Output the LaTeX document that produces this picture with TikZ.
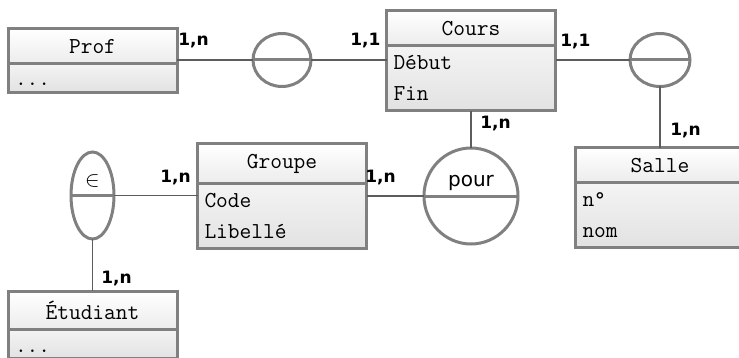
\documentclass[tikz,border=0pt]{standalone}
\usepackage{fontspec}
\newfontfamily\cardfont{DejaVu Sans}
\usepackage{tikz}
\usetikzlibrary{positioning,shapes.geometric}
\definecolor{mcdgris}{HTML}{808080}
\definecolor{mcdtrait}{HTML}{5C5C5C}
\definecolor{mcdbas}{HTML}{ECECEC}
\definecolor{mcdattr}{HTML}{E2E2E2}

\begin{document}
\begin{tikzpicture}[x=0.5pt,y=-0.5pt,
  entite/.style={draw=mcdgris,line width=1.5pt,top color=white,bottom color=mcdbas,
    minimum width=84.5pt,inner xsep=3.5pt,inner ysep=5pt,outer sep=0pt,anchor=north,
    font=\fontsize{11.4}{15.5}\selectfont\ttfamily},
  attributs/.style={draw=mcdgris,line width=1.5pt,top color=mcdbas!60,bottom color=mcdattr,
    text width=77.5pt,align=left,inner xsep=3.5pt,inner ysep=5pt,outer sep=0pt,
    font=\fontsize{11.4}{15.5}\selectfont\ttfamily},
  vide/.style={attributs,inner ysep=2pt,text height=9.25pt,text depth=1.25pt},
  asso/.style={ellipse,draw=mcdgris,line width=1.5pt,inner sep=0pt,outer sep=0pt},
  milieu/.style={draw=mcdgris,line width=1.5pt},
  lien/.style={draw=mcdtrait,line width=0.65pt},
  card/.style={anchor=base west,inner sep=0pt,font=\cardfont\bfseries\fontsize{8.5}{10}\selectfont}]
  \useasboundingbox (0,0) rectangle (739,358);
  % entites
  \node[entite] (profh) at (92.5,29) {Prof};
  \node[vide,below=0pt of profh] (profa) {...};
  \node[entite] (coursh) at (471,11) {Cours};
  \node[attributs,below=0pt of coursh] (coursa) {Début\\Fin};
  \node[entite] (grouph) at (282,144) {Groupe};
  \node[attributs,below=0pt of grouph] (groupa) {Code\\Libellé};
  \node[entite] (salleh) at (660,148) {Salle};
  \node[attributs,below=0pt of salleh] (sallea) {n°\\nom};
  \node[entite] (etudh) at (92.5,291) {Étudiant};
  \node[vide,below=0pt of etudh] (etuda) {...};
  % associations
  \node[asso,minimum width=29pt,minimum height=26.5pt] (enseigne) at (282,60) {};
  \node[asso,minimum width=30pt,minimum height=26.5pt] (lieu) at (660,60) {};
  \node[asso,minimum width=47pt,minimum height=48pt] (pour) at (471,196) {};
  \node[asso,minimum width=21.5pt,minimum height=43.5pt] (appart) at (92.5,195.5) {};
  \draw[milieu] (enseigne.west) -- (enseigne.east);
  \draw[milieu] (lieu.west) -- (lieu.east);
  \draw[milieu] (pour.west) -- (pour.east);
  \draw[milieu] (appart.west) -- (appart.east);
  \node[font=\cardfont\fontsize{10}{12}\selectfont,anchor=base,inner sep=0pt] (pourtxt) at (471,186) {pour};
  \node[font=\fontsize{11}{13}\selectfont,inner sep=0pt] (apptxt) at (92.5,181) {$\in$};
  % liens
  \draw[lien] (enseigne.west) -- (enseigne.west -| profh.east);
  \draw[lien] (enseigne.east) -- (enseigne.east -| coursa.west);
  \draw[lien] (lieu.west) -- (lieu.west -| coursa.east);
  \draw[lien] (lieu.south) -- (lieu.south |- salleh.north);
  \draw[lien] (pour.north) -- (pour.north |- coursa.south);
  \draw[lien] (pour.west) -- (pour.west -| groupa.east);
  \draw[lien] (appart.east) -- (appart.east -| groupa.west);
  \draw[lien] (appart.south) -- (appart.south |- etudh.north);
  % cardinalites
  \node[card] (c1) at (178,45.5) {1,n};
  \node[card] (c2) at (350,46) {1,1};
  \node[card] (c3) at (560,46.5) {1,1};
  \node[card] (c4) at (480,128) {1,n};
  \node[card] (c5) at (670,135) {1,n};
  \node[card] (c6) at (365,183) {1,n};
  \node[card] (c7) at (160,183) {1,n};
  \node[card] (c8) at (101,283) {1,n};
\end{tikzpicture}
\end{document}
